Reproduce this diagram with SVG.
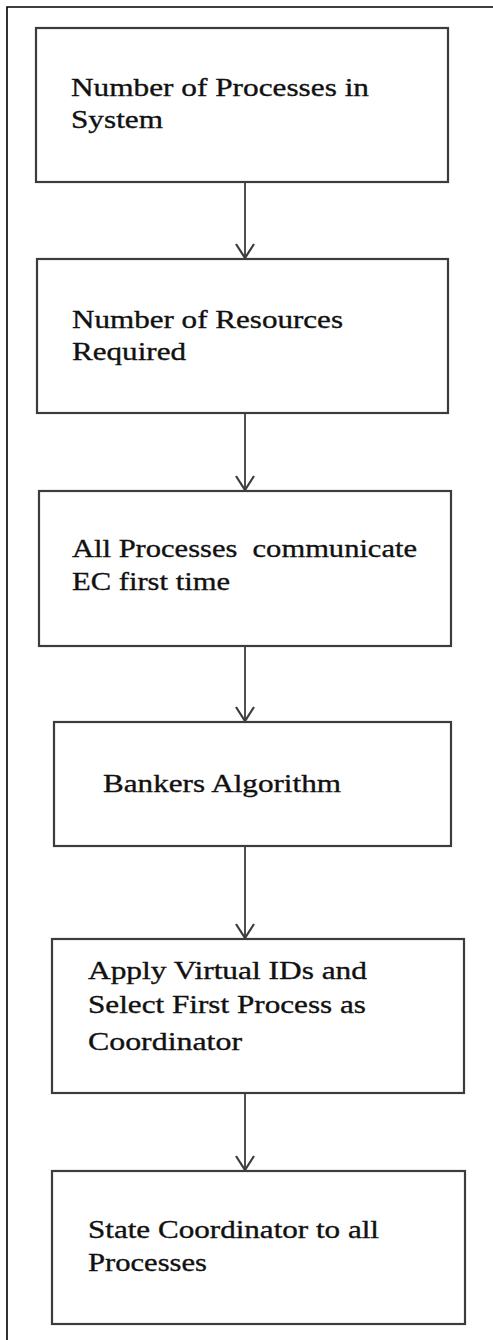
<svg xmlns="http://www.w3.org/2000/svg" width="493" height="1340" viewBox="0 0 493 1340">
<defs>
<style>
.frame{fill:none;stroke:#000;stroke-width:1.6}
.box{fill:#fff;stroke:#3c3c3c;stroke-width:2.2}
.t{font-family:"Liberation Serif","Times New Roman",serif;font-size:26px;fill:#111;stroke:#111;stroke-width:0.35}
.edge{fill:none;stroke:#3c3c3c;stroke-width:1.8}
</style>
<marker id="arr" viewBox="0 0 16 20" refX="15" refY="10" markerWidth="16" markerHeight="20" markerUnits="userSpaceOnUse" orient="auto">
<path d="M1,1 L15,10 L1,19" fill="none" stroke="#3c3c3c" stroke-width="2.2"/>
</marker>
</defs>
<rect width="493" height="1340" fill="#fff"/>
<path class="frame" d="M7,1340 L7,7 L493,7"/>
<g id="connectors">
<line class="edge" x1="245" y1="182" x2="245" y2="258" marker-end="url(#arr)"/>
<line class="edge" x1="245" y1="413" x2="245" y2="490" marker-end="url(#arr)"/>
<line class="edge" x1="245" y1="646" x2="245" y2="721" marker-end="url(#arr)"/>
<line class="edge" x1="245" y1="846" x2="245" y2="938" marker-end="url(#arr)"/>
<line class="edge" x1="245" y1="1093" x2="245" y2="1170" marker-end="url(#arr)"/>
</g>
<g id="n1">
<rect class="box" x="36" y="28" width="412" height="154"/>
<text class="t" x="71" y="96" textLength="298" lengthAdjust="spacingAndGlyphs">Number of Processes in</text>
<text class="t" x="71" y="128" textLength="92" lengthAdjust="spacingAndGlyphs">System</text>
</g>
<g id="n2">
<rect class="box" x="37" y="259" width="411" height="154"/>
<text class="t" x="72" y="328" textLength="271" lengthAdjust="spacingAndGlyphs">Number of Resources</text>
<text class="t" x="72" y="360" textLength="114" lengthAdjust="spacingAndGlyphs">Required</text>
</g>
<g id="n3">
<rect class="box" x="39" y="491" width="412" height="155"/>
<text class="t" x="72" y="557" textLength="345" lengthAdjust="spacingAndGlyphs" xml:space="preserve">All Processes  communicate</text>
<text class="t" x="72" y="590" textLength="158" lengthAdjust="spacingAndGlyphs">EC first time</text>
</g>
<g id="n4">
<rect class="box" x="54" y="722" width="397" height="124"/>
<text class="t" x="103" y="792" textLength="238" lengthAdjust="spacingAndGlyphs">Bankers Algorithm</text>
</g>
<g id="n5">
<rect class="box" x="52" y="939" width="412" height="154"/>
<text class="t" x="88" y="979" textLength="279" lengthAdjust="spacingAndGlyphs">Apply Virtual IDs and</text>
<text class="t" x="88" y="1013" textLength="278" lengthAdjust="spacingAndGlyphs">Select First Process as</text>
<text class="t" x="88" y="1050" textLength="154" lengthAdjust="spacingAndGlyphs">Coordinator</text>
</g>
<g id="n6">
<rect class="box" x="52" y="1171" width="413" height="153"/>
<text class="t" x="88" y="1238" textLength="291" lengthAdjust="spacingAndGlyphs">State Coordinator to all</text>
<text class="t" x="88" y="1271" textLength="119" lengthAdjust="spacingAndGlyphs">Processes</text>
</g>
</svg>
